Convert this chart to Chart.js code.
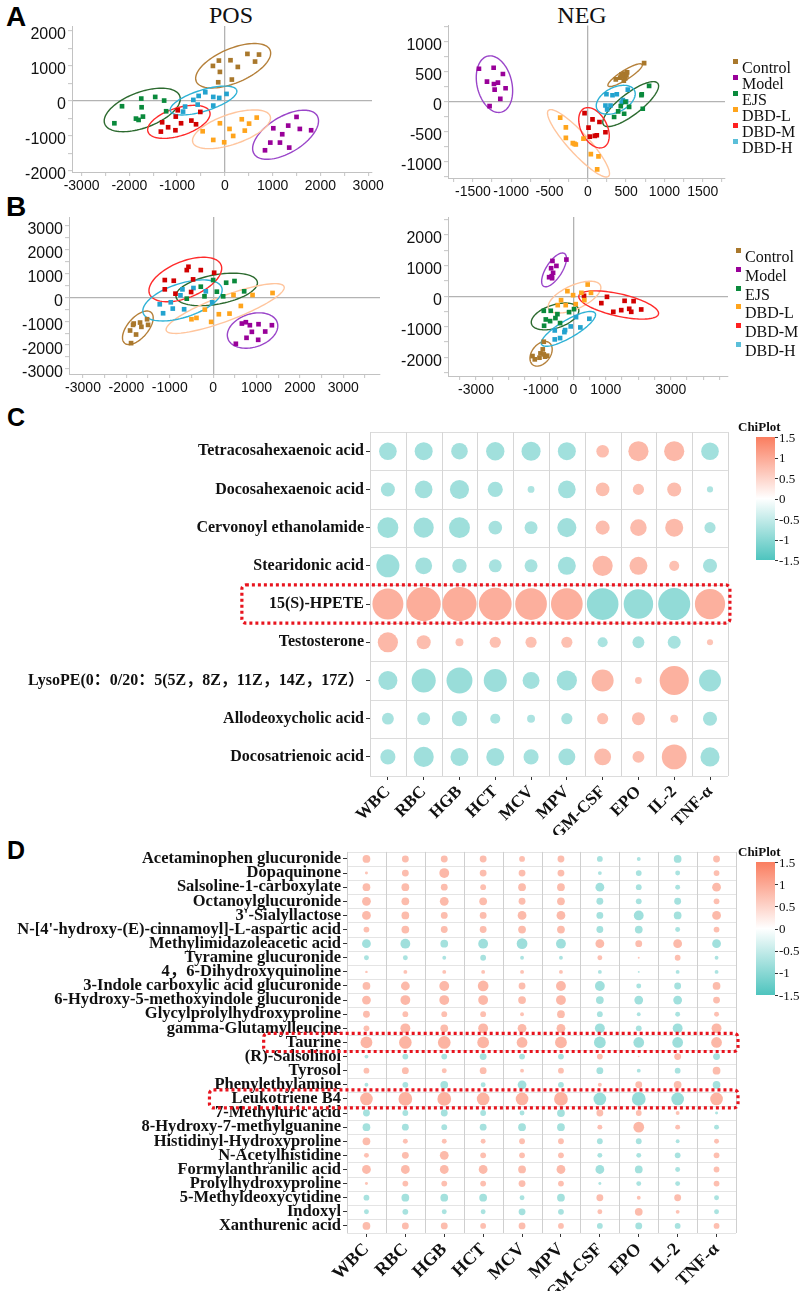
<!DOCTYPE html>
<html>
<head>
<meta charset="utf-8">
<script src="https://cdn.jsdelivr.net/npm/chart.js@4.4.1/dist/chart.umd.min.js"></script>
<style>
  html, body { margin: 0; padding: 0; background: #fff; }
  #page { position: relative; width: 803px; height: 1291px; overflow: hidden; }
  canvas { position: absolute; }
  .letter { position: absolute; font: bold 28px "Liberation Sans", Arial, sans-serif; line-height: 1; color: #000; }
  .letter.small { font-size: 25px; }
  .title { position: absolute; font: 24px "Liberation Serif", "Times New Roman", serif; line-height: 1; color: #111; transform: translateX(-50%); }
  .lg { position: absolute; font: 16px "Liberation Serif", "Times New Roman", serif; color: #111; line-height: 16px; white-space: nowrap; }
  .sw { position: absolute; width: 5px; height: 5px; }
  .cb-title { position: absolute; font: bold 13px "Liberation Serif", serif; color: #111; line-height: 1; }
  .cb-bar { position: absolute; }
  .cb-lab { position: absolute; font: 13px "Liberation Serif", serif; color: #111; line-height: 13px; }
  .cb-tick { position: absolute; width: 3px; height: 1px; background: #333; }
</style>
</head>
<body>
<div id="page">
  <div class="letter" style="left:6px;top:3px">A</div>
  <div class="letter" style="left:6px;top:193px">B</div>
  <div class="letter small" style="left:7px;top:405px">C</div>
  <div class="letter small" style="left:7px;top:838px">D</div>
  <div class="title" style="left:231px;top:3px">POS</div>
  <div class="title" style="left:582px;top:3px">NEG</div>

  <canvas id="cPos" width="395" height="191" style="left:0;top:14px"></canvas>
  <canvas id="cNeg" width="380" height="191" style="left:380px;top:14px"></canvas>
  <canvas id="cB1" width="400" height="200" style="left:0;top:200px"></canvas>
  <canvas id="cB2" width="380" height="200" style="left:380px;top:200px"></canvas>
  <canvas id="cC" width="745" height="420" style="left:0;top:415px"></canvas>
  <canvas id="cD" width="745" height="451" style="left:0;top:840px"></canvas>
  <div id="legA"></div>
  <div id="legB"></div>
  <div id="barC"></div>
  <div id="barD"></div>
</div>
<script>
// groups
const groups = ['Control', 'Model', 'EJS', 'DBD-L', 'DBD-M', 'DBD-H'];

// A, POS scores
const posControl = [[-250,1000],[-125,1152],[118,1162],[472,1343],[715,1324],[632,1124],[271,971],[-104,829],[146,610],[-139,533]];
const posModel = [[1500,-457],[1014,-781],[1326,-705],[1569,-800],[1806,-838],[1201,-952],[951,-1190],[1153,-1190],[1347,-1333],[840,-1410]];
const posEJS = [[-2153,-152],[-1750,67],[-1458,114],[-1271,10],[-1743,-181],[-1229,-295],[-2313,-638],[-1861,-505],[-1806,-543],[-1715,-448]];
const posDBDL = [[354,-524],[667,-476],[507,-648],[-104,-638],[97,-800],[417,-848],[-465,-867],[174,-1000],[-243,-1114],[-14,-1181]];
const posDBDM = [[-986,-267],[-514,-314],[-1028,-448],[-1313,-610],[-917,-638],[-701,-562],[-604,-667],[-1188,-752],[-1035,-838],[-1340,-876]];
const posDBDH = [[-410,248],[35,200],[-549,143],[-243,114],[-118,86],[-660,29],[-833,-162],[-569,-105],[-243,-133],[-875,-305]];

// A, NEG scores
const negControl = [[735,637],[513,484],[474,462],[439,445],[422,396],[470,346],[487,385],[365,368],[452,418],[504,434]];
const negModel = [[-1422,544],[-1230,560],[-1109,456],[-1317,330],[-1226,291],[-1174,313],[-1217,198],[-1074,220],[-1143,44],[-1283,-77]];
const negEJS = [[800,258],[704,121],[700,104],[491,-5],[430,-77],[539,-88],[717,-121],[396,-165],[474,-203],[343,-258]];
const negDBDL = [[-361,-269],[-287,-429],[-287,-604],[-174,-703],[-157,-714],[-57,-615],[39,-874],[139,-912],[122,-1126],[-196,-692]];
const negDBDM = [[-43,-192],[61,-297],[152,-341],[9,-434],[230,-511],[117,-560],[91,-571],[26,-582]];
const negDBDH = [[522,198],[243,121],[322,104],[378,121],[457,22],[500,0],[230,-66],[296,-66],[252,-132],[443,-16]];

// B, left scores
const b1Control = [[-1831,-1097],[-1685,-1056],[-1654,-1236],[-1523,-917],[-1500,-1153],[-1915,-1389],[-1777,-1556],[-1892,-1917],[-1846,-1153]];
const b1Model = [[662,-1097],[754,-1042],[846,-1167],[1046,-1125],[1354,-1167],[892,-1444],[1200,-1431],[769,-1694],[1038,-1778],[523,-1944]];
const b1EJS = [[0,722],[300,611],[492,681],[715,250],[-285,444],[85,236],[231,42],[-200,42],[-608,-56]];
const b1DBDL = [[1369,181],[908,97],[469,97],[638,-361],[377,-681],[131,-708],[-192,-514],[-385,-861],[-500,-917],[-46,-1028]];
const b1DBDM = [[-569,1278],[-608,1139],[-285,1139],[23,1028],[-1115,722],[-908,694],[-462,750],[-1115,333],[-869,153],[-508,222]];
const b1DBDH = [[-708,333],[-454,389],[-169,250],[-754,83],[-1231,-292],[-977,-208],[-931,-472],[-669,-500],[-1154,-667],[-23,-208]];

// B, right scores
const b2Control = [[-912,-1489],[-943,-1739],[-1014,-1870],[-1260,-1957],[-1189,-2065],[-1045,-2011],[-871,-1978],[-809,-1946],[-912,-1902]];
const b2Model = [[-645,1152],[-215,1196],[-523,989],[-686,913],[-625,761],[-666,652],[-748,620],[-656,587]];
const b2EJS = [[-912,-478],[-697,-478],[-492,-587],[-133,-522],[20,-424],[-850,-761],[-717,-815],[-553,-717],[-410,-880],[-902,-967]];
const b2DBDL = [[441,380],[-184,163],[-10,33],[246,109],[543,109],[-379,-130],[-482,-293],[-236,-293],[72,-261],[338,-130]];
const b2DBDM = [[328,11],[1035,-22],[861,-228],[1578,-152],[1855,-163],[1230,-511],[1475,-457],[1721,-413],[1783,-511],[2090,-435]];
const b2DBDH = [[492,-739],[82,-685],[-82,-989],[215,-1022],[-256,-1109],[-277,-1174],[-574,-1120],[-410,-1370],[-574,-1413]];

// tick labels
const posXLabels = [-3000, -2000, -1000, 0, 1000, 2000, 3000];
const posYLabels = [-2000, -1000, 0, 1000, 2000];
const negXLabels = [-1500, -1000, -500, 0, 500, 1000, 1500];
const negYLabels = [-1000, -500, 0, 500, 1000];
const b1XLabels = [-3000, -2000, -1000, 0, 1000, 2000, 3000];
const b1YLabels = [-3000, -2000, -1000, 0, 1000, 2000, 3000];
const b2XLabels = [-3000, -1000, 0, 1000, 3000];
const b2YLabels = [-2000, -1000, 0, 1000, 2000];

// correlation panels
const heatCols = ['WBC', 'RBC', 'HGB', 'HCT', 'MCV', 'MPV', 'GM-CSF', 'EPO', 'IL-2', 'TNF-α'];
const cRows = ['Tetracosahexaenoic acid', 'Docosahexaenoic acid', 'Cervonoyl ethanolamide', 'Stearidonic acid',
  '15(S)-HPETE', 'Testosterone', 'LysoPE(0：0/20：5(5Z，8Z，11Z，14Z，17Z）', 'Allodeoxycholic acid', 'Docosatrienoic acid'];
const cVals = [
  [-0.49, -0.50, -0.46, -0.51, -0.53, -0.50, 0.35, 0.56, 0.56, -0.49],
  [-0.39, -0.49, -0.53, -0.42, -0.19, -0.49, 0.38, 0.31, 0.39, -0.17],
  [-0.58, -0.56, -0.58, -0.38, -0.36, -0.53, 0.39, 0.46, 0.50, -0.31],
  [-0.64, -0.47, -0.40, -0.36, -0.36, -0.50, 0.56, 0.50, 0.28, -0.39],
  [0.86, 0.95, 0.95, 0.91, 0.88, 0.88, -0.88, -0.82, -0.89, 0.84],
  [0.56, 0.39, 0.22, 0.31, 0.31, 0.31, -0.28, -0.33, -0.36, 0.17],
  [-0.53, -0.67, -0.72, -0.64, -0.47, -0.56, 0.61, 0.19, 0.81, -0.61],
  [-0.33, -0.36, -0.42, -0.28, -0.22, -0.31, 0.31, 0.36, 0.22, -0.39],
  [-0.42, -0.56, -0.50, -0.50, -0.42, -0.47, 0.47, 0.33, 0.69, -0.53]
];
const cMarked = ['15(S)-HPETE'];

const dRows = ['Acetaminophen glucuronide', 'Dopaquinone', 'Salsoline-1-carboxylate', 'Octanoylglucuronide',
  "3'-Sialyllactose", "N-[4'-hydroxy-(E)-cinnamoyl]-L-aspartic acid", 'Methylimidazoleacetic acid',
  'Tyramine glucuronide', '4，6-Dihydroxyquinoline', '3-Indole carboxylic acid glucuronide',
  '6-Hydroxy-5-methoxyindole glucuronide', 'Glycylprolylhydroxyproline', 'gamma-Glutamylleucine', 'Taurine',
  '(R)-Salsolinol', 'Tyrosol', 'Phenylethylamine', 'Leukotriene B4', '7-Methyluric acid',
  '8-Hydroxy-7-methylguanine', 'Histidinyl-Hydroxyproline', 'N-Acetylhistidine', 'Formylanthranilic acid',
  'Prolylhydroxyproline', '5-Methyldeoxycytidine', 'Indoxyl', 'Xanthurenic acid'];
const dVals = [
  [0.44, 0.39, 0.39, 0.39, 0.33, 0.39, -0.33, -0.22, -0.44, 0.39],
  [0.17, 0.39, 0.56, 0.39, 0.39, 0.39, -0.22, -0.33, -0.28, 0.33],
  [0.44, 0.44, 0.39, 0.33, 0.44, 0.44, -0.50, -0.33, -0.28, 0.50],
  [0.50, 0.44, 0.50, 0.44, 0.39, 0.44, -0.39, -0.33, -0.39, 0.33],
  [0.50, 0.44, 0.39, 0.39, 0.50, 0.50, -0.39, -0.56, -0.44, 0.50],
  [0.33, 0.44, 0.39, 0.39, 0.44, 0.44, -0.39, -0.44, -0.28, 0.33],
  [-0.50, -0.56, -0.44, -0.56, -0.61, -0.56, 0.50, 0.39, 0.50, -0.50],
  [-0.28, -0.28, -0.22, -0.33, -0.22, -0.22, 0.28, 0.11, 0.33, -0.22],
  [0.14, 0.22, 0.22, 0.22, 0.22, 0.22, -0.22, -0.11, -0.22, -0.22],
  [0.44, 0.50, 0.56, 0.61, 0.39, 0.56, -0.56, -0.28, -0.39, 0.44],
  [0.50, 0.56, 0.56, 0.56, 0.44, 0.56, -0.44, -0.50, -0.50, 0.39],
  [0.39, 0.33, 0.33, 0.33, 0.22, 0.44, -0.33, -0.22, -0.28, 0.28],
  [0.33, 0.56, 0.44, 0.56, 0.50, 0.50, -0.56, -0.33, -0.56, 0.56],
  [0.67, 0.72, 0.72, 0.67, 0.61, 0.67, -0.67, -0.61, -0.61, 0.61],
  [-0.22, -0.33, -0.33, -0.39, -0.33, -0.33, 0.33, 0.08, 0.39, -0.39],
  [0.33, 0.39, 0.28, 0.39, 0.22, 0.33, -0.39, -0.22, -0.33, 0.44],
  [-0.22, -0.33, -0.44, -0.28, -0.50, -0.33, 0.22, 0.39, 0.44, -0.44],
  [0.72, 0.78, 0.78, 0.72, 0.72, 0.78, -0.72, -0.78, -0.72, 0.72],
  [-0.39, -0.33, -0.39, -0.33, -0.28, -0.44, 0.39, 0.33, 0.22, -0.17],
  [-0.44, -0.39, -0.33, -0.39, -0.44, -0.44, 0.28, 0.61, 0.28, -0.28],
  [0.44, 0.28, 0.28, 0.28, 0.33, 0.33, -0.33, -0.33, -0.22, 0.28],
  [0.28, 0.39, 0.50, 0.33, 0.33, 0.33, -0.28, -0.28, -0.33, 0.33],
  [0.50, 0.50, 0.50, 0.50, 0.44, 0.50, -0.50, -0.44, -0.28, 0.33],
  [0.17, 0.33, 0.33, 0.33, 0.39, 0.33, -0.17, -0.28, -0.28, 0.33],
  [-0.33, -0.44, -0.44, -0.44, -0.28, -0.44, 0.39, 0.22, 0.39, -0.28],
  [-0.28, -0.33, -0.28, -0.28, -0.39, -0.33, 0.28, 0.44, 0.22, -0.28],
  [0.44, 0.39, 0.39, 0.33, 0.39, 0.33, -0.33, -0.39, -0.33, 0.33]
];
const dMarked = ['Taurine', 'Leukotriene B4'];
const barTicks = [1.5, 1, 0.5, 0, -0.5, -1, -1.5];

// ---- styles ----
const SANS = '"Liberation Sans", Arial, sans-serif';
const SERIF = '"Liberation Serif", "Times New Roman", "Noto Sans CJK SC", serif';
const pointColors = ['#a9782c', '#990099', '#0a8a3c', '#ffa41c', '#d10000', '#23a3cf'];
const ringColors = ['#b5803a', '#9a45c9', '#2c6a2f', '#ffc59d', '#ff2b2b', '#2fb2d6'];
const legendColors = ['#a9782c', '#990099', '#0a8a3c', '#ffa41c', '#ff2020', '#5bbfd9'];
const HI = [250, 125, 95], LO = [78, 196, 190];

function mix(c, t) {
  return 'rgb(' + c.map(k => Math.round(255 - (255 - k) * t)).join(',') + ')';
}
function bubbleColor(v) {
  const t = 0.42 + 0.22 * Math.min(1, Math.abs(v));
  return mix(v >= 0 ? HI : LO, t);
}

// confidence ellipse per group, from the group's own points
const ellipsePlugin = {
  id: 'ellipses',
  beforeDatasetsDraw(chart, args, opts) {
    const { ctx, chartArea: ca, scales: { x, y } } = chart;
    ctx.save();
    ctx.beginPath();
    ctx.rect(ca.left, ca.top, ca.width, ca.height);
    ctx.clip();
    chart.data.datasets.forEach((ds, i) => {
      const pts = ds.data, n = pts.length;
      const mx = pts.reduce((s, p) => s + p.x, 0) / n;
      const my = pts.reduce((s, p) => s + p.y, 0) / n;
      let sxx = 0, syy = 0, sxy = 0;
      pts.forEach(p => { sxx += (p.x - mx) ** 2; syy += (p.y - my) ** 2; sxy += (p.x - mx) * (p.y - my); });
      sxx /= n - 1; syy /= n - 1; sxy /= n - 1;
      const tr = sxx + syy, det = sxx * syy - sxy * sxy;
      const disc = Math.sqrt(Math.max(tr * tr / 4 - det, 0));
      const a = opts.k * Math.sqrt(tr / 2 + disc);
      const b = opts.k * Math.sqrt(Math.max(tr / 2 - disc, 0));
      const ang = 0.5 * Math.atan2(2 * sxy, sxx - syy);
      ctx.beginPath();
      for (let s = 0; s <= 96; s++) {
        const t = s / 96 * Math.PI * 2;
        const dx = a * Math.cos(t), dy = b * Math.sin(t);
        const px = x.getPixelForValue(mx + dx * Math.cos(ang) - dy * Math.sin(ang));
        const py = y.getPixelForValue(my + dx * Math.sin(ang) + dy * Math.cos(ang));
        if (s) ctx.lineTo(px, py); else ctx.moveTo(px, py);
      }
      ctx.strokeStyle = ringColors[i];
      ctx.lineWidth = 1.4;
      ctx.stroke();
    });
    ctx.restore();
  }
};

function linAxis(min, max, step, shown, size, fit, shift) {
  return {
    type: 'linear', min: min, max: max, bounds: 'data',
    afterFit: fit,
    // ticks on every round step; Chart.js would otherwise spread them evenly from min to max
    afterBuildTicks: s => {
      const t = [];
      for (let v = Math.ceil(min / step) * step; v <= max; v += step) t.push({ value: v });
      s.ticks = t;
    },
    border: { display: true, color: '#c2c2c2', width: 1 },
    grid: {
      color: c => (c.tick && c.tick.value === 0) ? '#b3b3b3' : 'rgba(0,0,0,0)',
      lineWidth: 1.3, tickColor: '#c4c4c4', tickWidth: 1, tickLength: 4
    },
    ticks: {
      autoSkip: false, maxRotation: 0, minRotation: 0, padding: 2, labelOffset: shift,
      color: '#111', font: { family: SANS, size: size },
      callback: v => shown.indexOf(v) >= 0 ? String(v) : ''
    }
  };
}

function scatter(id, sets, c) {
  return new Chart(document.getElementById(id), {
    type: 'scatter',
    data: {
      datasets: sets.map((d, i) => ({
        label: groups[i],
        data: d.map(p => ({ x: p[0], y: p[1] })),
        backgroundColor: pointColors[i],
        borderWidth: 0,
        pointStyle: 'rect',
        pointRadius: 3.3
      }))
    },
    options: {
      responsive: false, animation: false, events: [],
      layout: { padding: { left: 0, top: c.top, right: c.right, bottom: 0 } },
      plugins: { legend: { display: false }, tooltip: { enabled: false }, ellipses: { k: c.k } },
      scales: {
        x: linAxis(c.x[0], c.x[1], c.x[2], c.xl, c.xf, s => { s.height = c.xh; }, 0),
        y: linAxis(c.y[0], c.y[1], c.y[2], c.yl, c.yf, s => { s.width = c.yw; }, 4)
      }
    },
    plugins: [ellipsePlugin]
  });
}

scatter('cPos', [posControl, posModel, posEJS, posDBDL, posDBDM, posDBDH],
  { x: [-3200, 3080, 500], y: [-2030, 2140, 500], xl: posXLabels, yl: posYLabels, xf: 14, yf: 16,
    top: 12, right: 23, yw: 72, xh: 33, k: 2.3 });
scatter('cNeg', [negControl, negModel, negEJS, negDBDL, negDBDM, negDBDH],
  { x: [-1826, 1791, 250], y: [-1270, 1260, 250], xl: negXLabels, yl: negYLabels, xf: 14, yf: 16,
    top: 11, right: 35, yw: 68, xh: 27, k: 2.3 });
scatter('cB1', [b1Control, b1Model, b1EJS, b1DBDL, b1DBDM, b1DBDH],
  { x: [-3323, 3846, 500], y: [-3208, 3360, 500], xl: b1XLabels, yl: b1YLabels, xf: 14, yf: 16,
    top: 17, right: 20, yw: 69, xh: 26, k: 2.3 });
scatter('cB2', [b2Control, b2Model, b2EJS, b2DBDL, b2DBDM, b2DBDH],
  { x: [-3863, 4764, 500], y: [-2609, 2587, 500], xl: b2XLabels, yl: b2YLabels, xf: 14, yf: 16,
    top: 17, right: 32, yw: 68, xh: 24, k: 2.3 });

// legends
function legend(host, left, top, step) {
  const el = document.getElementById(host);
  groups.forEach((g, i) => {
    const cy = top + i * step;
    const sw = document.createElement('div');
    sw.className = 'sw';
    sw.style.left = left + 'px';
    sw.style.top = (cy - 9) + 'px';
    sw.style.background = legendColors[i];
    const tx = document.createElement('div');
    tx.className = 'lg';
    tx.style.left = (left + 9) + 'px';
    tx.style.top = (cy - 8) + 'px';
    tx.textContent = g;
    el.appendChild(sw); el.appendChild(tx);
  });
}
legend('legA', 733, 68, 16);
legend('legB', 736, 257, 18.8);

// cell borders of the correlation grids
const cellPlugin = {
  id: 'cells',
  beforeDatasetsDraw(chart, args, o) {
    const { ctx, chartArea: ca, scales: { x, y } } = chart;
    ctx.save();
    ctx.lineWidth = 1;
    ctx.strokeStyle = o.h;
    for (let i = 0; i <= y.getLabels().length; i++) {
      const py = Math.round(y.getPixelForValue(i - 0.5)) + 0.5;
      ctx.beginPath(); ctx.moveTo(ca.left, py); ctx.lineTo(ca.right, py); ctx.stroke();
    }
    ctx.strokeStyle = o.v;
    for (let j = 0; j <= x.getLabels().length; j++) {
      const px = Math.round(x.getPixelForValue(j - 0.5)) + 0.5;
      ctx.beginPath(); ctx.moveTo(px, ca.top); ctx.lineTo(px, ca.bottom); ctx.stroke();
    }
    ctx.restore();
  }
};

// dotted red frames round the marked rows
const framePlugin = {
  id: 'frames',
  afterDraw(chart, args, o) {
    const { ctx, chartArea: ca, scales: { y } } = chart;
    const half = Math.abs(y.getPixelForValue(1) - y.getPixelForValue(0)) / 2;
    ctx.save();
    ctx.font = 'bold ' + o.size + 'px ' + SERIF;
    o.rows.forEach(r => {
      const idx = y.getLabels().indexOf(r);
      const cy = y.getPixelForValue(idx);
      const right = ca.left - 6;
      const left = right - ctx.measureText(r).width - o.gap;
      ctx.beginPath();
      ctx.setLineDash([3, 3]);
      ctx.lineWidth = 3.2;
      ctx.strokeStyle = '#e8141e';
      ctx.roundRect(left, cy - half - o.pad, ca.right + 2 - left, 2 * (half + o.pad), 4);
      ctx.stroke();
    });
    ctx.restore();
  }
};

function corrChart(id, rows, vals, c) {
  const data = [];
  vals.forEach((row, i) => row.forEach((v, j) => data.push({ x: heatCols[j], y: rows[i], v: v })));
  const catAxis = (labels, fit, font, rot) => ({
    type: 'category', labels: labels, offset: true,
    afterFit: fit,
    border: { display: false },
    grid: { offset: false, drawOnChartArea: false, tickLength: 4, tickColor: '#333', tickWidth: 1 },
    ticks: { autoSkip: false, minRotation: rot, maxRotation: rot, padding: 2, color: '#111',
             font: { family: SERIF, weight: 'bold', size: font } }
  });
  return new Chart(document.getElementById(id), {
    type: 'bubble',
    data: {
      datasets: [{
        data: data,
        radius: ctx => c.rmax * Math.abs(ctx.raw.v),
        backgroundColor: ctx => bubbleColor(ctx.raw.v),
        borderWidth: 0,
        clip: false
      }]
    },
    options: {
      responsive: false, animation: false, events: [],
      layout: { padding: { left: 0, top: c.top, right: c.right, bottom: 0 } },
      plugins: {
        legend: { display: false }, tooltip: { enabled: false },
        cells: { h: c.hLine, v: c.vLine },
        frames: { rows: c.marked, size: c.yf, gap: c.gap, pad: c.pad }
      },
      scales: {
        x: catAxis(heatCols, s => { s.height = c.xh; }, c.xf, 45),
        y: catAxis(rows, s => { s.width = c.yw; }, c.yf, 0)
      }
    },
    plugins: [cellPlugin, framePlugin]
  });
}

corrChart('cC', cRows, cVals, { rmax: 18, top: 8, right: 9, yw: 370, xh: 59, xf: 17, yf: 16,
  hLine: '#dcdcdc', vLine: '#d6d6d6', marked: cMarked, gap: 27, pad: 0 });
corrChart('cD', dRows, dVals, { rmax: 8.8, top: 7, right: 9, yw: 347, xh: 58, xf: 18, yf: 16.5,
  hLine: '#e4e4e4', vLine: '#cfcfcf', marked: dMarked, gap: 22, pad: 2 });

// colour bars
function colorBar(host, top, height) {
  const el = document.getElementById(host);
  const left = 756, w = 19;
  el.innerHTML = '';
  const t = document.createElement('div');
  t.className = 'cb-title';
  t.style.left = '738px';
  t.style.top = (top - 17) + 'px';
  t.textContent = 'ChiPlot';
  el.appendChild(t);
  const bar = document.createElement('div');
  bar.className = 'cb-bar';
  bar.style.cssText = 'left:' + left + 'px;top:' + top + 'px;width:' + w + 'px;height:' + height + 'px;' +
    'background:linear-gradient(to bottom,' + mix(HI, 1) + ',#ffffff,' + mix(LO, 1) + ')';
  el.appendChild(bar);
  barTicks.forEach(v => {
    const y = top + height * (1.5 - v) / 3;
    const tk = document.createElement('div');
    tk.className = 'cb-tick';
    tk.style.left = (left + w) + 'px';
    tk.style.top = Math.round(y) + 'px';
    el.appendChild(tk);
    const lb = document.createElement('div');
    lb.className = 'cb-lab';
    lb.style.left = (left + w + 4) + 'px';
    lb.style.top = (y - 6.5) + 'px';
    lb.textContent = String(v);
    el.appendChild(lb);
  });
}
colorBar('barC', 437, 123);
colorBar('barD', 862, 133);
</script>
</body>
</html>
